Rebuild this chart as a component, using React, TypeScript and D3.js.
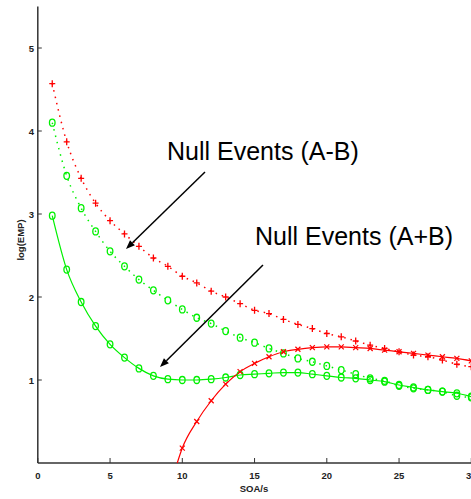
import React from "react";
import * as d3 from "d3";

const soa = d3.range(1, 31);
const nullMinus = [4.57, 3.87, 3.43, 3.13, 2.92, 2.76, 2.61, 2.47, 2.37, 2.25, 2.17, 2.07, 2.0, 1.92, 1.84, 1.8, 1.73, 1.67, 1.62, 1.56, 1.52, 1.47, 1.42, 1.38, 1.34, 1.3, 1.28, 1.24, 1.19, 1.16];
const nullMinusGreen = [4.1, 3.46, 3.07, 2.79, 2.55, 2.37, 2.21, 2.08, 1.96, 1.85, 1.75, 1.68, 1.59, 1.51, 1.45, 1.38, 1.32, 1.26, 1.22, 1.17, 1.12, 1.07, 1.02, 0.99, 0.93, 0.9, 0.88, 0.86, 0.81, 0.79];
const nullPlusGreen = [2.98, 2.33, 1.94, 1.65, 1.43, 1.27, 1.14, 1.05, 1.01, 1.0, 1.0, 1.01, 1.03, 1.06, 1.07, 1.08, 1.09, 1.09, 1.07, 1.05, 1.03, 1.02, 1.0, 0.98, 0.94, 0.91, 0.88, 0.86, 0.84, 0.8];
const soaRed = d3.range(10, 31);
const nullPlusRed = [0.18, 0.5, 0.75, 0.95, 1.1, 1.2, 1.28, 1.34, 1.37, 1.39, 1.4, 1.4, 1.39, 1.38, 1.36, 1.34, 1.32, 1.3, 1.28, 1.26, 1.23];
const redFitIntercept = 9.65;
const xTicks = [0, 5, 10, 15, 20, 25, 30];
const yTicks = [1, 2, 3, 4, 5];
const labelAB = "Null Events (A-B)";
const labelApB = "Null Events (A+B)";

const W = 471;
const H = 499;
const RED = "#ff0000";
const GREEN = "#00f000";
const AXIS = "#333";

export default function App() {
  const x = d3.scaleLinear().domain([0, 30]).range([37.8, 471.3]);
  const y = d3.scaleLinear().domain([0, 5.5]).range([463, 6.5]);

  const line = d3
    .line<[number, number]>()
    .x((d) => x(d[0]))
    .y((d) => y(d[1]))
    .curve(d3.curveMonotoneX);

  const zip = (xs: number[], ys: number[]) => xs.map((v, i) => [v, ys[i]] as [number, number]);

  const redPlus = zip(soa, nullMinus);
  const greenDot = zip(soa, nullMinusGreen);
  const greenSolid = zip(soa, nullPlusGreen);
  const redX = zip(soaRed, nullPlusRed);
  const redFit: [number, number][] = [[redFitIntercept, 0], ...redX];

  const font = "'Liberation Sans', Arial, sans-serif";

  const arrow = (x1: number, y1: number, x2: number, y2: number, key: string) => {
    const ang = Math.atan2(y2 - y1, x2 - x1);
    const L = 9;
    const Wd = 3.5;
    const bx = x2 - L * Math.cos(ang);
    const by = y2 - L * Math.sin(ang);
    const px = -Math.sin(ang) * Wd;
    const py = Math.cos(ang) * Wd;
    return (
      <g key={key}>
        <line x1={x1} y1={y1} x2={bx} y2={by} stroke="#000" strokeWidth={1.5} />
        <polygon points={`${x2},${y2} ${bx + px},${by + py} ${bx - px},${by - py}`} fill="#000" />
      </g>
    );
  };

  return (
    <div style={{ position: "absolute", left: 0, top: 0 }}>
      <svg width={W} height={H} style={{ display: "block", background: "#fff" }}>
        {/* axes */}
        <line x1={x(0)} y1={y(0)} x2={W} y2={y(0)} stroke={AXIS} strokeWidth={1.5} />
        <line x1={x(0)} y1={y(0)} x2={x(0)} y2={y(5.5)} stroke={AXIS} strokeWidth={1.5} />
        {xTicks.map((t) => (
          <g key={"xt" + t}>
            <line x1={x(t)} x2={x(t)} y1={y(0)} y2={y(0) - 5} stroke={AXIS} strokeWidth={1} />
            <text x={x(t)} y={479} textAnchor="middle" fontFamily={font} fontWeight="bold" fontSize={9.5} fill="#222">
              {t}
            </text>
          </g>
        ))}
        {yTicks.map((t) => (
          <g key={"yt" + t}>
            <line x1={x(0)} x2={x(0) + 4} y1={y(t)} y2={y(t)} stroke={AXIS} strokeWidth={1} />
            <text x={34} y={y(t) + 3.5} textAnchor="end" fontFamily={font} fontWeight="bold" fontSize={9.5} fill="#222">
              {t}
            </text>
          </g>
        ))}
        <text x={254} y={492} textAnchor="middle" fontFamily={font} fontWeight="bold" fontSize={9.5} fill="#222">
          SOA/s
        </text>
        <text
          transform={`translate(24,240) rotate(-90)`}
          textAnchor="middle"
          fontFamily={font}
          fontWeight="bold"
          fontSize={9.5}
          fill="#222"
        >
          log(EMP)
        </text>

        {/* lines */}
        <path d={line(redPlus) || ""} fill="none" stroke={RED} strokeWidth={1.5} strokeDasharray="1.5,5" />
        <path d={line(greenDot) || ""} fill="none" stroke={GREEN} strokeWidth={1.5} strokeDasharray="1.5,5" />
        <path d={line(greenSolid) || ""} fill="none" stroke={GREEN} strokeWidth={1.2} />
        <path d={line(redFit) || ""} fill="none" stroke={RED} strokeWidth={1.2} />

        {/* markers */}
        {redPlus.map((d, i) => (
          <path
            key={"rp" + i}
            d={`M${x(d[0]) - 3},${y(d[1])}h6M${x(d[0])},${y(d[1]) - 3.5}v7`}
            stroke={RED}
            strokeWidth={1.3}
            fill="none"
          />
        ))}
        {greenDot.map((d, i) => (
          <ellipse key={"gd" + i} cx={x(d[0])} cy={y(d[1])} rx={2.8} ry={3.5} stroke={GREEN} strokeWidth={1.3} fill="none" />
        ))}
        {greenSolid.map((d, i) => (
          <ellipse key={"gs" + i} cx={x(d[0])} cy={y(d[1])} rx={2.8} ry={3.5} stroke={GREEN} strokeWidth={1.3} fill="none" />
        ))}
        {redX.map((d, i) => (
          <path
            key={"rx" + i}
            d={`M${x(d[0]) - 2.5},${y(d[1]) - 2.5}l5,5M${x(d[0]) - 2.5},${y(d[1]) + 2.5}l5,-5`}
            stroke={RED}
            strokeWidth={1.2}
            fill="none"
          />
        ))}

        {/* annotations */}
        <text x={167} y={159.5} fontFamily={font} fontSize={25} fill="#000">
          {labelAB}
        </text>
        <text x={255} y={245} fontFamily={font} fontSize={25} fill="#000">
          {labelApB}
        </text>
        {arrow(205, 172, 126, 249, "a1")}
        {arrow(263, 265, 160, 367, "a2")}
      </svg>
    </div>
  );
}
